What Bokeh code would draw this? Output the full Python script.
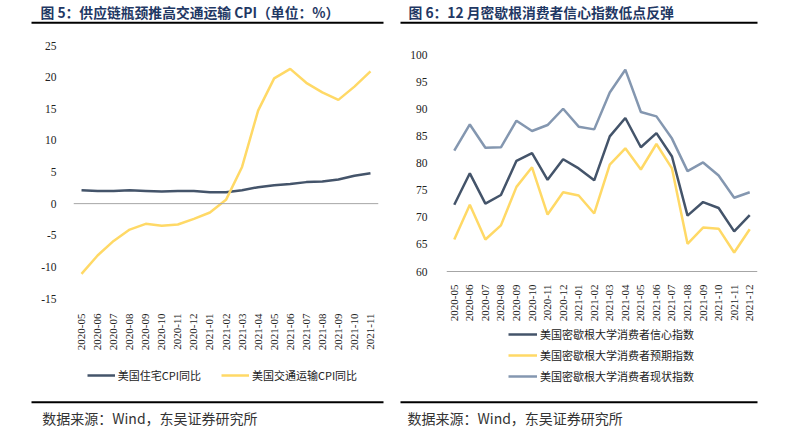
from math import pi
from bokeh.plotting import figure
from bokeh.layouts import row, column
from bokeh.models import (Range1d, FactorRange, FixedTicker, Span, Label,
                          BoxAnnotation, Legend, LegendItem)
from bokeh.embed import file_html
from bokeh.resources import INLINE

# ---------------- data ----------------
months_left = ["2020-05", "2020-06", "2020-07", "2020-08", "2020-09", "2020-10",
               "2020-11", "2020-12", "2021-01", "2021-02", "2021-03", "2021-04",
               "2021-05", "2021-06", "2021-07", "2021-08", "2021-09", "2021-10",
               "2021-11"]
housing_cpi = [2.1, 2.0, 2.0, 2.1, 2.0, 1.9, 2.0, 2.0, 1.8, 1.8, 2.1, 2.6,
               2.9, 3.1, 3.4, 3.5, 3.8, 4.4, 4.8]
transport_cpi = [-11.1, -8.2, -5.9, -4.1, -3.2, -3.5, -3.3, -2.4, -1.4, 0.6,
                 5.8, 14.7, 19.8, 21.3, 19.1, 17.6, 16.4, 18.5, 20.9]
left_yticks = [-15, -10, -5, 0, 5, 10, 15, 20, 25]
left_names = ["美国住宅CPI同比", "美国交通运输CPI同比"]
left_title = "图 5：供应链瓶颈推高交通运输 CPI（单位：%）"

months_right = months_left + ["2021-12"]
sentiment = [72.3, 78.1, 72.5, 74.1, 80.4, 81.8, 76.9, 80.7, 79.0, 76.8,
             84.9, 88.3, 82.9, 85.5, 81.2, 70.3, 72.8, 71.7, 67.4, 70.4]
expectations = [65.9, 72.3, 65.9, 68.5, 75.6, 79.2, 70.5, 74.6, 74.0, 70.7,
                79.7, 82.7, 78.8, 83.5, 79.0, 65.1, 68.1, 67.9, 63.5, 67.8]
current = [82.3, 87.1, 82.8, 82.9, 87.8, 85.9, 87.0, 90.0, 86.7, 86.2,
           93.0, 97.2, 89.4, 88.6, 84.5, 78.5, 80.1, 77.7, 73.6, 74.6]
right_yticks = [60, 65, 70, 75, 80, 85, 90, 95, 100]
right_names = ["美国密歇根大学消费者信心指数", "美国密歇根大学消费者预期指数",
               "美国密歇根大学消费者现状指数"]
right_title = "图 6：12 月密歇根消费者信心指数低点反弹"
source_text = "数据来源：Wind，东吴证券研究所"

NAVY = "#44546A"
YELLOW = "#FFD966"
BLUEGREY = "#8497B0"
TITLE_C = "#1F3864"
SERIF = "Liberation Serif"
CJK = "Noto Sans CJK SC"

HEADER_H = 30
FOOTER_H = 35
CHART_H = 430 - HEADER_H - FOOTER_H


def strip_fig(width, height):
    p = figure(width=width, height=height, x_range=Range1d(0, width),
               y_range=Range1d(0, height), output_backend="svg",
               toolbar_location=None, title=None, x_axis_location=None,
               y_axis_location=None, min_border=0, frame_align=False)
    p.outline_line_color = None
    p.grid.grid_line_color = None
    return p


def rule(p, left, right, y):
    p.add_layout(BoxAnnotation(left=left, right=right, bottom=y - 1, top=y + 1,
                               left_units="screen", right_units="screen",
                               bottom_units="screen", top_units="screen",
                               fill_color="black", fill_alpha=1.0, line_color=None))


def base_fig(factors, y_lo_tick, y_hi_tick, tick_top_px, tick_bot_px, ticks,
             ml, mr, standoff_y, standoff_x):
    # frame spans from tick_top_px (chart coords) down to the bottom of the chart;
    # the y range is extended below the lowest tick so the legend fits inside the frame
    ppu = (tick_bot_px - tick_top_px) / (y_hi_tick - y_lo_tick)
    y_start = y_lo_tick - (CHART_H - tick_bot_px) / ppu
    p = figure(width=396, height=CHART_H, x_range=FactorRange(*factors, range_padding=0),
               y_range=Range1d(y_start, y_hi_tick), output_backend="svg",
               toolbar_location=None, title=None, min_border_left=ml, min_border_right=mr,
               min_border_top=tick_top_px, min_border_bottom=0, frame_align=False)
    p.outline_line_color = None
    p.grid.grid_line_color = None
    ya = p.yaxis[0]
    ya.ticker = FixedTicker(ticks=ticks)
    ya.major_label_overrides = {t: str(t) for t in ticks}
    ya.axis_line_color = None
    ya.major_tick_line_color = None
    ya.minor_tick_line_color = None
    ya.major_label_standoff = standoff_y
    ya.major_label_text_font = SERIF
    ya.major_label_text_font_size = "11.5px"
    ya.major_label_text_color = "#222222"
    xa = p.xaxis[0]
    xa.fixed_location = y_lo_tick
    xa.major_tick_line_color = None
    xa.minor_tick_line_color = None
    xa.major_label_orientation = pi / 2
    xa.major_label_standoff = standoff_x
    xa.major_label_text_font = SERIF
    xa.major_label_text_font_size = "11px"
    xa.major_label_text_color = "#222222"
    return p


def make_legend(items, orientation, loc, spacing, gw):
    return Legend(items=items, orientation=orientation, location=loc,
                  border_line_color=None, background_fill_alpha=0,
                  padding=0, margin=0, spacing=spacing, glyph_width=gw,
                  glyph_height=14, label_height=14, label_standoff=3,
                  label_text_font=CJK, label_text_font_size="11px",
                  label_text_color="#222222")


# ---------------- header ----------------
header = strip_fig(792, HEADER_H)
for tx, txt in ((40, left_title), (408, right_title)):
    header.add_layout(Label(x=tx, y=HEADER_H - 11.5, x_units="screen", y_units="screen",
                            text=txt, text_font=CJK, text_font_style="bold",
                            text_font_size="13.8px", text_color=TITLE_C,
                            text_baseline="middle", text_align="left"))
rule(header, 31, 383, HEADER_H - 22.3)
rule(header, 400, 757, HEADER_H - 22.3)

# ---------------- left chart ----------------
p1 = base_fig(months_left, -15, 25, 15, 268, left_yticks, 73, 18, 11, 9)
p1.xaxis[0].axis_line_color = None
p1.add_layout(Span(location=0, dimension="width", line_color="#A6A6A6", line_width=1))
r1 = p1.line(months_left, housing_cpi, line_color=NAVY, line_width=2.5)
r2 = p1.line(months_left, transport_cpi, line_color=YELLOW, line_width=2.5)
leg1 = make_legend([LegendItem(label=left_names[0], renderers=[r1]),
                    LegendItem(label=left_names[1], renderers=[r2])],
                   "horizontal", (13.7, 12.3), 20, 28)
p1.add_layout(leg1, "center")

# ---------------- right chart ----------------
p2 = base_fig(months_right, 60, 100, 24, 241, right_yticks, 50, 35, 13, 7)
p2.xaxis[0].axis_line_color = "#A6A6A6"
p2.xaxis[0].axis_line_width = 1
s1 = p2.line(months_right, sentiment, line_color=NAVY, line_width=2.5)
s2 = p2.line(months_right, expectations, line_color=YELLOW, line_width=2.5)
s3 = p2.line(months_right, current, line_color=BLUEGREY, line_width=2.5)
leg2 = make_legend([LegendItem(label=right_names[0], renderers=[s1]),
                    LegendItem(label=right_names[1], renderers=[s2]),
                    LegendItem(label=right_names[2], renderers=[s3])],
                   "vertical", (62, 10.7), 5, 29)
p2.add_layout(leg2, "center")

# ---------------- footer ----------------
footer = strip_fig(792, FOOTER_H)
rule(footer, 31, 383, FOOTER_H - 6.7)
rule(footer, 400, 757, FOOTER_H - 6.7)
for sx in (41.7, 407):
    footer.add_layout(Label(x=sx, y=FOOTER_H - 22.5, x_units="screen", y_units="screen",
                            text=source_text, text_font=CJK, text_font_size="14px",
                            text_color="#333333", text_baseline="middle",
                            text_align="left"))

layout = column(header, row(p1, p2), footer)
open("out.html", "w").write(file_html(layout, INLINE))
